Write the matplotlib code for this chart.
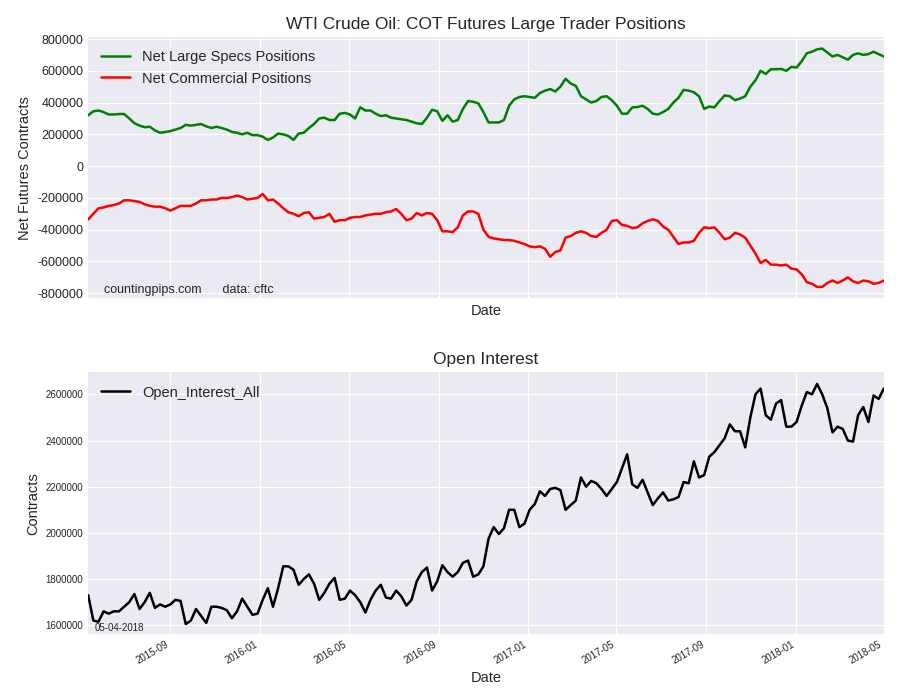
import matplotlib
matplotlib.use("Agg")
import matplotlib.pyplot as plt
import matplotlib.dates as mdates
import pandas as pd

end_date = "2018-05-01"
specs_k = [320, 345, 350, 340, 325, 325, 328, 328, 300, 270, 255, 245, 248, 225, 210, 215, 220, 230, 240, 260,
           255, 260, 265, 250, 240, 248, 240, 230, 215, 210, 200, 210, 195, 195, 185, 165, 180, 205, 200, 190,
           165, 205, 210, 240, 265, 300, 305, 290, 290, 330, 335, 325, 300, 370, 350, 350, 330, 315, 320, 305,
           300, 295, 290, 280, 270, 265, 305, 355, 345, 285, 320, 280, 290, 360, 410, 405, 395, 340, 275, 275,
           275, 290, 380, 420, 435, 440, 435, 430, 460, 475, 485, 470, 500, 550, 520, 505, 440, 420, 400, 410,
           435, 440, 415, 380, 330, 330, 370, 372, 380, 360, 330, 325, 340, 360, 400, 430, 480, 475, 465, 440,
           360, 375, 370, 410, 445, 440, 415, 425, 440, 500, 540, 600, 580, 610, 610, 612, 600, 625, 620, 660,
           710, 720, 735, 740, 715, 690, 700, 685, 670, 700, 710, 700, 705, 720, 705, 690]
comm_k = [-330, -355, -350, -345, -330, -335, -340, -335, -300, -265, -260, -250, -245, -235, -215, -215, -220,
          -225, -240, -250, -255, -255, -265, -280, -265, -250, -250, -250, -235, -215, -215, -210, -210, -200,
          -200, -195, -185, -195, -210, -205, -200, -175, -215, -210, -235, -265, -290, -300, -315, -295, -290,
          -330, -325, -320, -300, -350, -340, -340, -325, -320, -320, -310, -305, -300, -300, -290, -285, -270,
          -300, -340, -330, -295, -310, -295, -300, -340, -410, -410, -415, -385, -310, -285, -285, -300, -400,
          -445, -455, -460, -465, -465, -470, -480, -490, -505, -510, -505, -520, -570, -540, -530, -450, -440,
          -420, -410, -420, -440, -445, -420, -400, -345, -340, -370, -375, -390, -385, -360, -345, -335, -345,
          -380, -400, -445, -490, -480, -480, -470, -420, -385, -390, -385, -420, -460, -450, -420, -430, -450,
          -500, -550, -610, -590, -620, -620, -625, -620, -645, -650, -680, -730, -740, -760, -760, -735, -720,
          -735, -720, -700, -725, -735, -720, -725, -740, -735, -720]
oi_k = [1730, 1620, 1615, 1660, 1650, 1660, 1660, 1680, 1700, 1735, 1670, 1700, 1740, 1675, 1690, 1680, 1690,
        1710, 1705, 1605, 1620, 1670, 1640, 1610, 1680, 1680, 1675, 1665, 1630, 1660, 1715, 1680, 1645, 1650,
        1710, 1760, 1680, 1760, 1855, 1855, 1840, 1775, 1800, 1820, 1780, 1710, 1740, 1780, 1805, 1710, 1715,
        1750, 1730, 1700, 1655, 1710, 1750, 1775, 1720, 1715, 1750, 1725, 1685, 1710, 1790, 1830, 1850, 1750,
        1790, 1860, 1830, 1810, 1830, 1870, 1880, 1810, 1820, 1855, 1975, 2025, 1995, 2020, 2100, 2100, 2025,
        2040, 2100, 2125, 2180, 2160, 2190, 2195, 2185, 2100, 2120, 2140, 2240, 2200, 2225, 2215, 2190, 2160,
        2190, 2220, 2280, 2340, 2210, 2195, 2230, 2175, 2120, 2150, 2175, 2140, 2145, 2155, 2220, 2215, 2310,
        2240, 2250, 2330, 2350, 2380, 2410, 2470, 2440, 2440, 2370, 2500, 2600, 2625, 2510, 2490, 2560, 2575,
        2460, 2460, 2480, 2550, 2610, 2600, 2645, 2600, 2540, 2435, 2460, 2450, 2400, 2395, 2510, 2545, 2480,
        2595, 2580, 2625]

def dates_for(vals):
    return pd.date_range(end=end_date, periods=len(vals), freq="7D")

plt.style.use("seaborn-v0_8-darkgrid")
fig = plt.figure(figsize=(9, 7), dpi=100)
ax1 = fig.add_axes([0.098, 0.574, 0.884, 0.373])
ax2 = fig.add_axes([0.098, 0.094, 0.884, 0.374], sharex=ax1)

ax1.plot(dates_for(specs_k), [v * 1000 for v in specs_k], color="green", lw=1.8, label="Net Large Specs Positions")
ax1.plot(dates_for(comm_k), [v * 1000 for v in comm_k], color="red", lw=1.8, label="Net Commercial Positions")
ax1.set_ylim(-831000, 812000)
ax1.set_yticks(range(-800000, 800001, 200000))
ax1.yaxis.set_major_formatter(matplotlib.ticker.FuncFormatter(lambda v, p: f"{int(v)}"))
ax1.tick_params(axis="y", labelsize=9)
ax1.tick_params(axis="x", labelbottom=False)
ax1.set_title("WTI Crude Oil: COT Futures Large Trader Positions", fontsize=12.5)
ax1.set_ylabel("Net Futures Contracts", fontsize=10.5)
ax1.set_xlabel("Date", fontsize=10.5)
ax1.legend(loc="upper left", fontsize=10.5)
ax1.text(0.02, 0.02, "countingpips.com      data: cftc", transform=ax1.transAxes, fontsize=9)

od = dates_for(oi_k)
ax2.plot(od, [v * 1000 for v in oi_k], color="black", lw=1.8, label="Open_Interest_All")
ax2.set_ylim(1561000, 2695000)
ax2.set_yticks(range(1600000, 2600001, 200000))
ax2.yaxis.set_major_formatter(matplotlib.ticker.FuncFormatter(lambda v, p: f"{int(v)}"))
ax2.tick_params(axis="y", labelsize=7)
ax2.tick_params(axis="x", labelsize=7)
ax2.set_title("Open Interest", fontsize=12.5)
ax2.set_ylabel("Contracts", fontsize=10.5)
ax2.set_xlabel("Date", fontsize=10.5)
ax2.legend(loc="upper left", fontsize=10.5)
ax2.text(0.008, 0.005, "05-04-2018", transform=ax2.transAxes, fontsize=7, va="bottom")
ax2.xaxis.set_major_locator(mdates.MonthLocator(bymonth=[1, 5, 9]))
ax2.xaxis.set_major_formatter(mdates.DateFormatter("%Y-%m"))
for lbl in ax2.get_xticklabels():
    lbl.set_rotation(30)
    lbl.set_ha("right")
ax2.set_xlim(pd.Timestamp("2015-05-12"), pd.Timestamp(end_date))

fig.savefig("out.png", dpi=100)
